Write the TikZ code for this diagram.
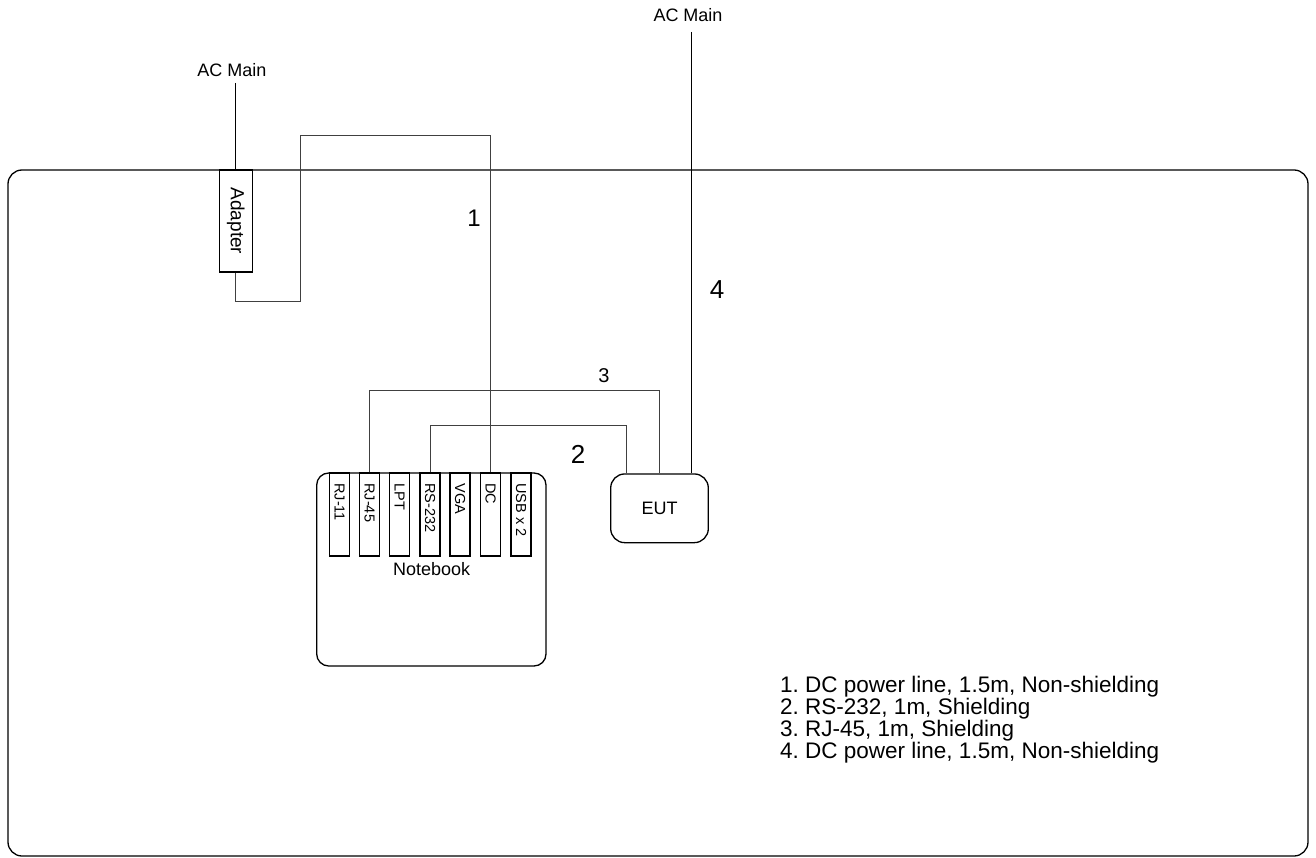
\documentclass[tikz,border=0pt]{standalone}
\usepackage{fontspec}
\setmainfont{Liberation Sans}
\usetikzlibrary{calc}
\frenchspacing
\newcommand{\fs}[1]{\fontsize{#1}{#1}\selectfont}
\tikzset{
  box/.style={draw=black, line width=1.3pt, fill=white, inner sep=0pt},
  portbox/.style={box, minimum width=20pt, minimum height=83pt},
  porttext/.style={rotate=-90, anchor=west, inner sep=0pt, font=\fs{14.5}},
  mains/.style={draw=black, line width=1.3pt},
  cable/.style={draw=black!75, line width=1pt},
  lbl/.style={inner sep=0pt},
}
\begin{document}
\begin{tikzpicture}[x=1pt,y=-1pt]
\useasboundingbox (0,0) rectangle (1316,858);
% room
\draw[line width=1.3pt, rounded corners=14pt] (8,170) rectangle (1308,856);

% AC mains
\coordinate (acL) at (235.7,83);
\coordinate (acR) at (691.7,32);
\node[lbl, font=\fs{18}] (acLlbl) at (232,70) {AC Main};
\node[lbl, font=\fs{18}] (acRlbl) at (688,15) {AC Main};

% adapter
\node[box, rotate=-90, minimum width=102pt, minimum height=33pt, font=\fs{19}] (adapter) at (235.7,221) {Adapter};

% notebook
\draw[line width=1.3pt, rounded corners=12pt] (316.7,473) rectangle (546,666);
\node[lbl, font=\fs{18}] (nblbl) at (431.7,569) {Notebook};
\foreach \n/\x/\t in {p1/339.5/RJ-11, p2/369.5/RJ-45, p3/399.5/LPT, p4/430/RS-232, p5/460/VGA, p6/490.5/DC, p7/521/USB x 2}{
  \node[portbox] (\n) at (\x,514.4) {};
  \node[porttext] at ($(\n.north)+(0,11)$) {\t};
}

% EUT
\node[box, rounded corners=14pt, minimum width=97.6pt, minimum height=68.7pt, font=\fs{18}] (eut) at (659.5,508.3) {EUT};

% mains wires
\draw[mains] (acL) -- (adapter.west);
\draw[mains] (acR) -- (acR |- eut.north);

% cable 1: adapter to DC
\draw[cable] (adapter.east) -- (235.7,302) -- (300.7,302) -- (300.7,135.7) -- (p6.north |- 0,135.7) -- (p6.north);
% cable 3: RJ-45 to EUT
\draw[cable] (p2.north) -- (p2.north |- 0,390.7) -- (659,390.7) -- (659,0 |- eut.north);
% cable 2: RS-232 to EUT
\draw[cable] (p4.north) -- (p4.north |- 0,425) -- (626,425) -- (626,0 |- eut.north);

% cable numbers
\node[lbl, font=\fs{24}] (n1) at (474,218) {1};
\node[lbl, font=\fs{20}] (n3) at (604,376) {3};
\node[lbl, font=\fs{26}] (n2) at (578,454) {2};
\node[lbl, font=\fs{26}] (n4) at (717,290) {4};

% legend
\node[lbl, anchor=north west, align=left, font=\fontsize{22.5}{22}\selectfont] (legend) at (780,676) {1. DC power line, 1.5m, Non-shielding\\2. RS-232, 1m, Shielding\\3. RJ-45, 1m, Shielding\\4. DC power line, 1.5m, Non-shielding};
\end{tikzpicture}
\end{document}
